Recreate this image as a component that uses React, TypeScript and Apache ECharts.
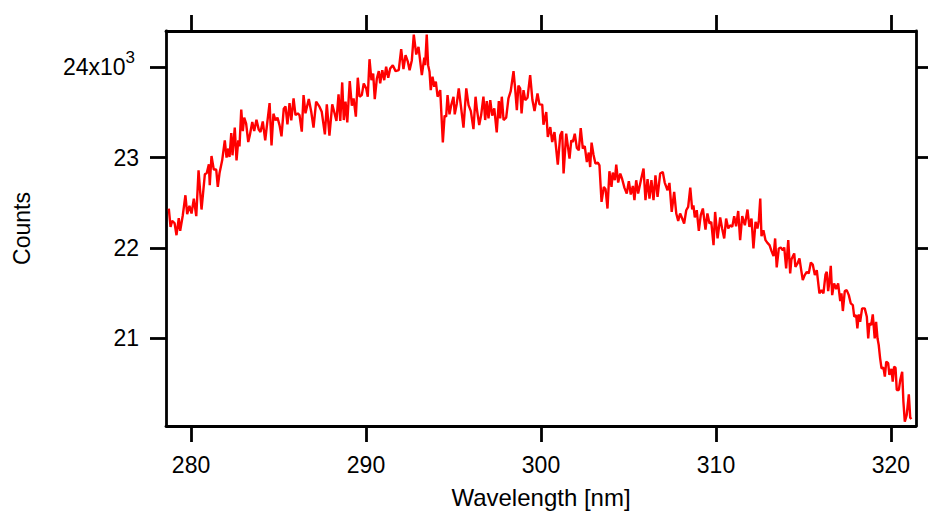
import React, { useEffect, useRef } from "react";
import * as echarts from "echarts";

// Wavelength [nm] of each sample
const wavelengths: number[] = [
  278.73, 278.83, 278.92, 279.06, 279.17, 279.30, 279.38, 279.53, 279.68, 279.78,
  279.91, 280.03, 280.16, 280.30, 280.43, 280.60, 280.79, 280.90, 281.02, 281.07,
  281.17, 281.30, 281.44, 281.53, 281.63, 281.78, 281.93, 282.03, 282.13, 282.20,
  282.30, 282.37, 282.50, 282.60, 282.70, 282.77, 282.87, 282.96, 283.04, 283.15,
  283.27, 283.36, 283.50, 283.61, 283.74, 283.87, 283.97, 284.10, 284.24, 284.35,
  284.49, 284.60, 284.71, 284.83, 284.94, 285.06, 285.17, 285.30, 285.40, 285.51,
  285.63, 285.73,
  285.86, 285.97, 286.10, 286.20, 286.33, 286.43, 286.54, 286.73, 286.87, 287.00,
  287.15, 287.34, 287.47, 287.65, 287.76, 287.91, 288.07, 288.18, 288.31, 288.43,
  288.53, 288.64, 288.73, 288.83, 288.93, 289.07, 289.19, 289.29, 289.42, 289.53,
  289.63, 289.76, 289.87, 290.01, 290.10, 290.20, 290.31, 290.41, 290.50, 290.62,
  290.73, 290.81, 290.93, 291.04, 291.15, 291.27, 291.38, 291.53, 291.69, 291.87,
  292.01, 292.14, 292.26, 292.39, 292.49, 292.62, 292.73,
  292.87, 293.00, 293.19, 293.33, 293.38, 293.47, 293.55, 293.63, 293.70, 293.80,
  293.90, 293.99, 294.09, 294.24, 294.39, 294.49, 294.58, 294.66, 294.77, 294.87,
  295.00, 295.07, 295.19, 295.30, 295.42, 295.57, 295.73, 295.86, 295.99, 296.14,
  296.26, 296.33, 296.47, 296.58, 296.71, 296.81, 296.90, 297.00, 297.10, 297.21,
  297.33, 297.47, 297.59, 297.67, 297.76, 297.86, 298.01, 298.14, 298.27, 298.43,
  298.53, 298.62, 298.71, 298.81, 298.89, 299.00, 299.10, 299.23, 299.38, 299.51,
  299.63, 299.80, 299.91,
  300.07, 300.14, 300.30, 300.39, 300.53, 300.64, 300.77, 300.96, 301.10, 301.21,
  301.29, 301.44, 301.63, 301.73, 301.82, 301.93, 302.05, 302.16, 302.27, 302.39,
  302.50, 302.62, 302.73, 302.81, 302.89, 303.00, 303.11, 303.25, 303.34, 303.46,
  303.59, 303.69, 303.80, 303.91, 304.03, 304.10, 304.22, 304.30, 304.41, 304.53,
  304.64, 304.77, 304.90, 305.02, 305.13, 305.25, 305.34, 305.44, 305.55, 305.73,
  305.86, 305.97, 306.09, 306.20, 306.31, 306.43, 306.54, 306.66, 306.81, 306.96, 307.07,
  307.23, 307.34, 307.47, 307.61, 307.73, 307.84, 307.95, 308.07, 308.18, 308.30,
  308.41, 308.53, 308.64, 308.71, 308.79, 308.90, 309.02, 309.13, 309.25, 309.40,
  309.51, 309.63, 309.73, 309.86, 309.95, 310.09, 310.24, 310.35, 310.47, 310.58,
  310.70, 310.81, 310.93, 311.04, 311.15, 311.27, 311.38, 311.50, 311.65, 311.80,
  311.91, 312.03, 312.14, 312.26, 312.37, 312.45, 312.53, 312.60, 312.71, 312.83,
  312.94, 313.06, 313.17, 313.29, 313.38, 313.47, 313.59, 313.70, 313.82, 313.90,
  314.01, 314.13, 314.24,
  314.31, 314.47, 314.54, 314.66, 314.77, 314.87, 314.96, 315.07, 315.19, 315.30,
  315.42, 315.53, 315.65, 315.76, 315.91, 316.03, 316.14, 316.26, 316.33, 316.41,
  316.49, 316.56, 316.64, 316.75, 316.87, 316.98, 317.10, 317.17, 317.25, 317.36,
  317.47, 317.59, 317.70, 317.82, 317.90, 318.01, 318.08, 318.16, 318.24, 318.35,
  318.50, 318.62, 318.70, 318.77, 318.87, 318.96, 319.07, 319.15, 319.23, 319.30,
  319.38, 319.46, 319.57, 319.65, 319.73, 319.84, 319.91, 320.03, 320.10, 320.18,
  320.26, 320.33, 320.45, 320.53, 320.64, 320.71, 320.79, 320.90, 321.02, 321.10, 321.17,
];

// Counts for each sample
const counts: number[] = [
  22436, 22233, 22299, 22274, 22141, 22329, 22189, 22362, 22583, 22373,
  22465, 22381, 22546, 22351, 22859, 22425, 22815, 22829, 22925, 22693,
  23017, 22867, 22867, 22675, 22829, 22969, 23190, 22999, 23099, 23006,
  23271, 23025, 23331, 22969, 23190, 23124, 23530, 23293, 23441, 23375,
  23172, 23246, 23393, 23293, 23419, 23309, 23282, 23400, 23190, 23375,
  23602, 23135, 23485, 23411, 23441, 23356, 23235, 23541, 23566, 23367,
  23602, 23411,
  23654, 23470, 23489, 23470, 23286, 23691, 23489, 23647, 23507, 23331,
  23618, 23563, 23507, 23257, 23588, 23242, 23588, 23507, 23404, 23699,
  23404, 23831, 23415, 23618, 23389, 23845, 23574, 23654, 23452, 23883,
  23673, 23691, 23820, 23765, 23673, 24088, 23856, 23930, 23647, 23875,
  23956, 23820, 23967, 23856, 24004, 23883, 23986, 24022, 23956, 23967,
  24199, 23978, 24133, 24060, 23967, 24077, 24361,
  24140, 24225, 23912, 24104, 24022, 24361, 24022, 23949, 23746, 23894,
  23784, 23839, 23673, 23746, 23168, 23463, 23452, 23691, 23478, 23580,
  23673, 23478, 23599, 23765, 23574, 23331, 23765, 23580, 23514, 23315,
  23673, 23544, 23359, 23470, 23673, 23415, 23624, 23433, 23636, 23463,
  23544, 23279, 23624, 23433, 23673, 23415, 23441, 23654, 23735, 23956,
  23746, 23525, 23795, 23765, 23489, 23746, 23636, 23662, 23912, 23636,
  23514, 23710, 23588,
  23585, 23364, 23503, 23227, 23337, 23172, 23282, 22922, 23246, 23290,
  22823, 23264, 22988, 23190, 23172, 23264, 23105, 23080, 23326, 23099,
  23127, 22951, 23055, 22895, 23165, 23032, 22933, 22944, 22914, 22509,
  22675, 22649, 22436, 22848, 22675, 22834, 22749, 22922, 22723, 22823,
  22760, 22664, 22602, 22738, 22591, 22686, 22528, 22749, 22602, 22767,
  22878, 22528, 22760, 22546, 22749, 22528, 22804, 22564, 22823, 22840, 22723,
  22638, 22719, 22398, 22619, 22381, 22299, 22381, 22325, 22270, 22417,
  22454, 22668, 22425, 22472, 22337, 22417, 22189, 22362, 22436, 22204,
  22381, 22270, 22288, 22031, 22398, 22105, 22337, 22215, 22105, 22325,
  22215, 22251, 22233, 22351, 22240, 22409, 22086, 22351, 22251, 22425,
  22233, 22325, 21994, 22288, 22215, 22307, 22546, 22130, 22196, 22086,
  22056, 22031, 21968, 21909, 22105, 21784, 21994, 22005, 21975, 22005,
  21773, 22086, 21718,
  21873, 21939, 21791, 21828, 21884, 21754, 21644, 21699, 21736, 21718,
  21839, 21817, 21699, 21754, 21497, 21533, 21497, 21707, 21736, 21522,
  21644, 21802, 21478, 21608, 21545, 21608, 21412, 21497, 21302, 21522,
  21533, 21478, 21387, 21368, 21239, 21257, 21110, 21265, 21183, 21331,
  21331, 21239, 21000, 21166, 21147, 21265, 21000, 21183, 21000, 20926,
  20779, 20669, 20675, 20576, 20742, 20724, 20595, 20661, 20521, 20686,
  20675, 20429, 20429, 20539, 20631, 20300, 20079, 20153, 20381, 20123, 20108,
];

const xTicks: number[] = [280, 290, 300, 310, 320];
const yTicks: number[] = [21000, 22000, 23000, 24000];
const xRange: number[] = [278.57, 321.43];
const yRange: number[] = [20030, 24400];

export default function App() {
  const ref = useRef<HTMLDivElement>(null);

  useEffect(() => {
    if (!ref.current) return;
    const chart = echarts.init(ref.current, null, { renderer: "svg" });
    const font = "'Liberation Sans', Arial, Helvetica, sans-serif";
    const n = Math.min(wavelengths.length, counts.length);
    const data: number[][] = [];
    for (let i = 0; i < n; i++) data.push([wavelengths[i], counts[i]]);

    const line = { show: true, onZero: false, lineStyle: { color: "#000", width: 2.8 } };
    const tick = (vals: number[]) => ({
      show: true,
      inside: false,
      length: 16,
      customValues: vals,
      lineStyle: { color: "#000", width: 2.8 },
    });
    const labelBase = { color: "#000", fontSize: 23, fontFamily: font };

    chart.setOption({
      animation: false,
      backgroundColor: "#fff",
      grid: { left: 166, top: 31, right: 12, bottom: 91, containLabel: false },
      xAxis: [
        {
          type: "value",
          position: "bottom",
          min: xRange[0],
          max: xRange[1],
          axisLine: line,
          axisTick: tick(xTicks),
          axisLabel: { ...labelBase, customValues: xTicks, margin: 27, formatter: (v: number) => String(v) },
          splitLine: { show: false },
          name: "Wavelength [nm]",
          nameLocation: "middle",
          nameGap: 59,
          nameTextStyle: { ...labelBase, fontSize: 24 },
        },
        {
          type: "value",
          position: "top",
          min: xRange[0],
          max: xRange[1],
          axisLine: line,
          axisTick: tick(xTicks),
          axisLabel: { show: false },
          splitLine: { show: false },
        },
      ],
      yAxis: [
        {
          type: "value",
          position: "left",
          min: yRange[0],
          max: yRange[1],
          axisLine: line,
          axisTick: tick(yTicks),
          axisLabel: {
            ...labelBase,
            customValues: yTicks,
            margin: 27,
            formatter: (v: number) =>
              v === 24000 ? "{b|24x10}{s|3}" : String(Math.round(v / 1000)),
            rich: {
              b: { fontSize: 23, fontFamily: font, color: "#000", padding: [7, 0, 7, 0] },
              s: {
                fontSize: 17,
                fontFamily: font,
                color: "#000",
                verticalAlign: "top",
                padding: [0, 4, 0, 0],
              },
            },
          },
          splitLine: { show: false },
          name: "Counts",
          nameLocation: "middle",
          nameGap: 133,
          nameTextStyle: { ...labelBase },
        },
        {
          type: "value",
          position: "right",
          min: yRange[0],
          max: yRange[1],
          axisLine: line,
          axisTick: tick(yTicks),
          axisLabel: { show: false },
          splitLine: { show: false },
        },
      ],
      series: [
        {
          type: "line",
          xAxisIndex: 0,
          yAxisIndex: 0,
          data,
          showSymbol: false,
          symbol: "none",
          silent: true,
          lineStyle: { color: "#ff0000", width: 2.4 },
          itemStyle: { color: "#ff0000" },
        },
      ],
    });
    return () => chart.dispose();
  }, []);

  return (
    <div
      ref={ref}
      style={{ position: "fixed", left: 0, top: 0, width: 928, height: 517 }}
    />
  );
}
